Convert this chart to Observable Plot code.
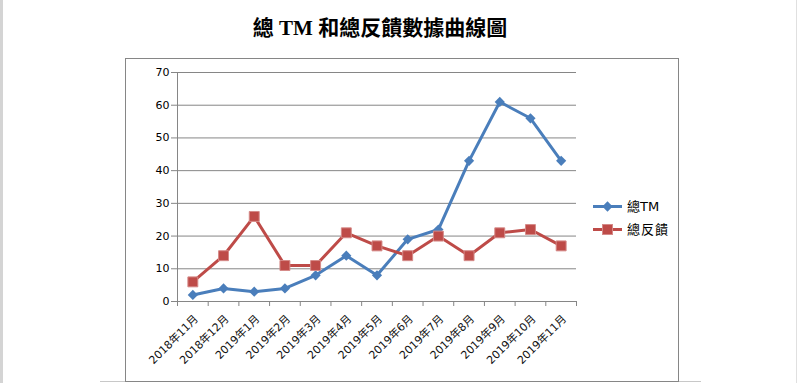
<!DOCTYPE html>
<html><head><meta charset="utf-8">
<script src="https://cdn.jsdelivr.net/npm/d3@7"></script>
<script src="https://cdn.jsdelivr.net/npm/@observablehq/plot@0.6"></script>
<style>
html,body{margin:0;padding:0;background:#fff;}
#wrap{position:relative;width:797px;height:383px;overflow:hidden;background:#fff;}
#wrap > svg{position:absolute;left:0;top:0;}
#title{position:absolute;left:380px;top:16px;transform:translateX(-50%);white-space:nowrap;font-family:"Liberation Serif","Noto Sans CJK TC",serif;font-weight:bold;font-size:21px;line-height:24px;color:#000;}
#box{position:absolute;left:125px;top:58px;width:554px;height:324px;box-sizing:border-box;border:1px solid #868686;}
.strip{position:absolute;background:#d4d4d4;}
</style></head><body>
<div id="wrap">
  <div class="strip" style="left:0;top:0;width:3px;height:383px;"></div>
  <div class="strip" style="left:796px;top:0;width:1px;height:383px;background:#e0e0e0;"></div>
  <div class="strip" style="left:100px;top:381px;width:25px;height:1px;background:#c8c8c8;"></div>
  <div class="strip" style="left:679px;top:381px;width:22px;height:1px;background:#c8c8c8;"></div>
  <div id="box"></div>
  <div id="title">總 TM 和總反饋數據曲線圖</div>
</div>
<script>
const months = ["2018年11月","2018年12月","2019年1月","2019年2月","2019年3月","2019年4月","2019年5月","2019年6月","2019年7月","2019年8月","2019年9月","2019年10月","2019年11月"];
const totalTM = [2,4,3,4,8,14,8,19,22,43,61,56,43];
const totalFeedback = [6,14,26,11,11,21,17,14,20,14,21,22,17];
const yTicks = [0,10,20,30,40,50,60,70];
const seriesNames = ["總TM","總反饋"];
const colors = ["#4a7ebb","#be4b48"];

const idx = months.map((_, i) => i);
const bounds = d3.range(-0.5, months.length, 1);
const axisColor = "#868686";

const chart = Plot.plot({
  width: 797, height: 383,
  marginLeft: 177, marginRight: 221, marginTop: 72, marginBottom: 82,
  x: {type: "linear", domain: [-0.5, months.length - 0.5], axis: null},
  y: {domain: [0, 70], axis: null},
  style: {fontFamily: "'DejaVu Sans','Noto Sans CJK TC',sans-serif", fontSize: "11px", background: "transparent", overflow: "visible", color: "#000"},
  marks: [
    Plot.gridY(yTicks, {stroke: axisColor, strokeOpacity: 1}),
    Plot.ruleX([-0.5], {stroke: axisColor}),
    Plot.ruleY([0], {stroke: axisColor}),
    Plot.axisY({ticks: yTicks, tickSize: 6, tickPadding: 2, stroke: axisColor, fill: "#000", label: null}),
    Plot.axisX({ticks: bounds, tickSize: 5, tickFormat: () => "", stroke: axisColor, label: null}),
    Plot.text(idx, {x: i => i, y: 0, text: i => months[i], rotate: -45, textAnchor: "end", lineAnchor: "bottom", dx: 6, dy: 18, fill: "#111"}),
    Plot.line(idx, {x: i => i, y: i => totalTM[i], stroke: colors[0], strokeWidth: 3}),
    Plot.line(idx, {x: i => i, y: i => totalFeedback[i], stroke: colors[1], strokeWidth: 3}),
    Plot.dot(idx, {x: i => i, y: i => totalTM[i], symbol: "diamond2", r: 4.6, fill: colors[0]}),
    Plot.dot(idx, {x: i => i, y: i => totalFeedback[i], symbol: "square", r: 5.6, fill: colors[1], stroke: "#d58a88", strokeWidth: 1})
  ]
});
const wrap = document.getElementById("wrap");
wrap.insertBefore(chart, document.getElementById("title"));

// legend
const leg = d3.select(wrap).append("svg")
  .attr("width", 797).attr("height", 383)
  .style("position", "absolute").style("left", 0).style("top", 0);
const rows = [206.5, 229.5];
seriesNames.forEach((name, k) => {
  const y = rows[k];
  const g = leg.append("g");
  g.append("line").attr("x1", 593).attr("x2", 622).attr("y1", y).attr("y2", y)
    .attr("stroke", colors[k]).attr("stroke-width", 3);
  if (k === 0) {
    g.append("path").attr("d", d3.symbol(d3.symbolDiamond2, 68)()).attr("transform", `translate(607.5,${y})`).attr("fill", colors[k]);
  } else {
    g.append("rect").attr("x", 602.5).attr("y", y - 5).attr("width", 10).attr("height", 10)
      .attr("fill", colors[k]).attr("stroke", "#d58a88");
  }
  g.append("text").attr("x", 627).attr("y", y).attr("dy", "0.35em")
    .attr("font-family", "'DejaVu Sans','Noto Sans CJK TC',sans-serif").attr("font-size", 13)
    .attr("letter-spacing", k === 1 ? "1px" : "0")
    .attr("fill", "#000").text(name);
});
</script>
</body></html>
